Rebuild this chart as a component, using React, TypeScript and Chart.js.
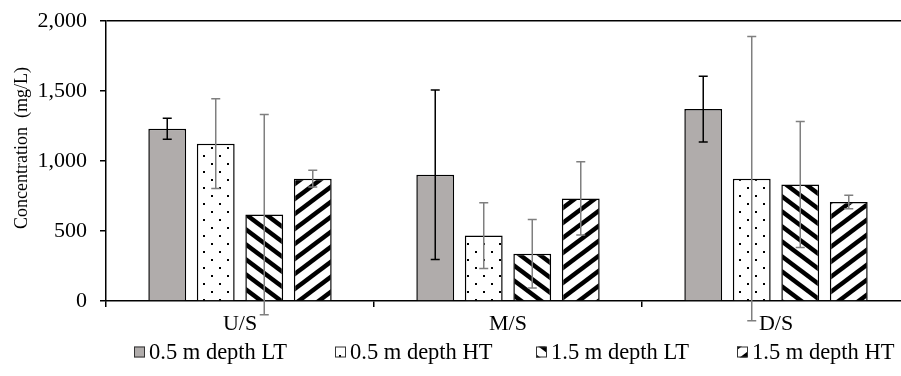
import React, { useEffect, useRef } from "react";
import { Chart, registerables } from "chart.js";

Chart.register(...registerables);

const categories = ["U/S", "M/S", "D/S"];
const seriesNames = ["0.5 m depth LT", "0.5 m depth HT", "1.5 m depth LT", "1.5 m depth HT"];
const lt05 = [1230, 902, 1371];
const lt05Err = [75, 605, 235];
const ht05 = [1124, 467, 874];
const ht05Err = [320, 234, 1015];
const lt15 = [617, 338, 833];
const lt15Err = [715, 245, 450];
const ht15 = [874, 733, 707];
const ht15Err = [60, 262, 48];
const yTicks = [0, 500, 1000, 1500, 2000];
const yTitle = "Concentration  (mg/L)";

const FONT = "'Liberation Serif', 'Times New Roman', serif";

function makeTile(w: number, h: number, draw: (c: CanvasRenderingContext2D) => void) {
  const cv = document.createElement("canvas");
  cv.width = w;
  cv.height = h;
  const c = cv.getContext("2d")!;
  c.fillStyle = "#fff";
  c.fillRect(0, 0, w, h);
  draw(c);
  return cv;
}

function dotPattern(ctx: CanvasRenderingContext2D) {
  const t = makeTile(16, 16, (c) => {
    c.fillStyle = "#000";
    c.fillRect(3, 3, 2, 2);
    c.fillRect(11, 11, 2, 2);
  });
  return ctx.createPattern(t, "repeat")!;
}

function stripePattern(ctx: CanvasRenderingContext2D, down: boolean) {
  const w = 20, h = 15;
  const t = makeTile(w, h, (c) => {
    c.strokeStyle = "#000";
    c.lineWidth = 4.5;
    for (let k = -2; k <= 2; k++) {
      c.beginPath();
      if (down) {
        c.moveTo(k * w - w, -h);
        c.lineTo(k * w + 2 * w, 2 * h);
      } else {
        c.moveTo(k * w - w, 2 * h);
        c.lineTo(k * w + 2 * w, -h);
      }
      c.stroke();
    }
  });
  return ctx.createPattern(t, "repeat")!;
}

const errs = [lt05Err, ht05Err, lt15Err, ht15Err];
const errColors = ["#000000", "#7f7f7f", "#7f7f7f", "#7f7f7f"];

const errorBarPlugin = {
  id: "errbars",
  afterDatasetsDraw(chart: any) {
    const ctx = chart.ctx;
    const ys = chart.scales.y;
    chart.data.datasets.forEach((ds: any, di: number) => {
      const meta = chart.getDatasetMeta(di);
      meta.data.forEach((bar: any, i: number) => {
        const v = ds.data[i];
        const e = errs[di][i];
        const x = bar.x;
        const y1 = ys.getPixelForValue(v + e);
        const y2 = ys.getPixelForValue(v - e);
        ctx.save();
        ctx.strokeStyle = errColors[di];
        ctx.lineWidth = 1.5;
        ctx.beginPath();
        ctx.moveTo(x, y1);
        ctx.lineTo(x, y2);
        ctx.moveTo(x - 4.5, y1);
        ctx.lineTo(x + 4.5, y1);
        ctx.moveTo(x - 4.5, y2);
        ctx.lineTo(x + 4.5, y2);
        ctx.stroke();
        ctx.restore();
      });
    });
  },
};

// Custom legend and axis title (Excel-like placement)
const decorPlugin = {
  id: "decor",
  afterDraw(chart: any) {
    const ctx = chart.ctx;
    ctx.save();
    ctx.translate(22.5, 148);
    ctx.rotate(-Math.PI / 2);
    ctx.fillStyle = "#000";
    ctx.font = `18px ${FONT}`;
    ctx.textAlign = "center";
    ctx.textBaseline = "middle";
    ctx.fillText(yTitle, 0, 0);
    ctx.restore();

    ctx.save();
    ctx.font = `22.5px ${FONT}`;
    ctx.textBaseline = "middle";
    ctx.textAlign = "left";
    const startX = 134;
    const step = 201;
    const cy = 352;
    chart.data.datasets.forEach((ds: any, i: number) => {
      const bx = startX + i * step;
      ctx.fillStyle = ds.backgroundColor;
      ctx.fillRect(bx, cy - 5.5, 11, 11);
      ctx.strokeStyle = "#333";
      ctx.lineWidth = 1;
      ctx.strokeRect(bx + 0.5, cy - 5, 10, 10);
      ctx.fillStyle = "#000";
      ctx.fillText(ds.label, bx + 15, cy + 1);
    });
    ctx.restore();
  },
};

export default function App() {
  const ref = useRef<HTMLCanvasElement>(null);
  useEffect(() => {
    const canvas = ref.current!;
    const ctx = canvas.getContext("2d")!;
    const fills = [
      "#b0acab",
      dotPattern(ctx),
      stripePattern(ctx, true),
      stripePattern(ctx, false),
    ];
    const values = [lt05, ht05, lt15, ht15];
    const chart = new Chart(canvas, {
      type: "bar",
      data: {
        labels: categories,
        datasets: values.map((d, i) => ({
          label: seriesNames[i],
          data: d,
          backgroundColor: fills[i] as any,
          borderColor: "#000",
          borderWidth: 1.5,
          categoryPercentage: 0.724,
          barPercentage: 0.78,
        })),
      },
      options: {
        responsive: false,
        animation: false,
        layout: { padding: { top: 21, left: 0, right: 0, bottom: 41 } },
        plugins: {
          tooltip: { enabled: false },
          legend: { display: false },
        },
        scales: {
          x: {
            grid: {
              offset: true,
              drawOnChartArea: false,
              tickColor: "#000",
              tickLength: 6,
              lineWidth: 1.5,
            },
            border: { display: true, color: "#000", width: 1.5 },
            ticks: { color: "#000", font: { family: FONT, size: 22 }, padding: 4 },
            afterFit: (s: any) => {
              s.height = 34;
            },
          },
          y: {
            min: 0,
            max: 2000,
            afterBuildTicks: (s: any) => {
              s.ticks = yTicks.map((v) => ({ value: v }));
            },
            grid: {
              color: (c: any) => (c.tick && c.tick.value === 2000 ? "#000" : "transparent"),
              tickColor: "#000",
              tickLength: 6,
              lineWidth: 1.5,
            },
            border: { display: true, color: "#000", width: 1.5 },
            ticks: {
              color: "#000",
              font: { family: FONT, size: 22 },
              padding: 13,
              callback: (v: any) => Number(v).toLocaleString("en-US"),
            },
            afterFit: (s: any) => {
              s.width = 106;
              s.paddingTop = 0;
              s.paddingBottom = 0;
            },
          },
        },
      },
      plugins: [errorBarPlugin, decorPlugin],
    });
    return () => chart.destroy();
  }, []);
  return (
    <div
      style={{
        position: "fixed",
        left: 0,
        top: 0,
        width: 901,
        height: 376,
        overflow: "hidden",
        background: "#fff",
      }}
    >
      <canvas ref={ref} width={910} height={376} style={{ display: "block" }} />
    </div>
  );
}
